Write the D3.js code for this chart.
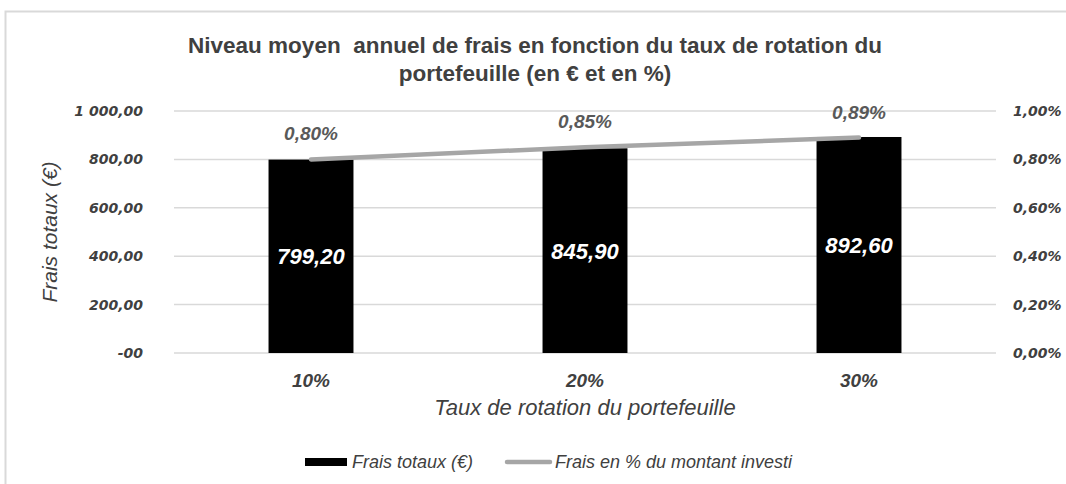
<!DOCTYPE html>
<html>
<head>
<meta charset="utf-8">
<script src="https://cdn.jsdelivr.net/npm/d3@7"></script>
<style>
  body { margin: 0; background: #fff; overflow: hidden; }
  text { font-family: "Liberation Sans", Arial, sans-serif; }
  .tick-lbl { font-family: "DejaVu Sans", Verdana, sans-serif; font-size: 14px; font-weight: bold; font-style: italic; fill: #404040; }
</style>
</head>
<body>
<div id="chart"></div>
<script>
// donnees
const categories = ['10%', '20%', '30%'];
const fraisTotaux = [799.20, 845.90, 892.60];
const fraisPct = [0.80, 0.85, 0.89];
const leftTicks = [0, 200, 400, 600, 800, 1000];
const rightTicks = [0, 0.2, 0.4, 0.6, 0.8, 1.0];

const WIDTH = 1066;
const HEIGHT = 484;
const PLOT = { LEFT: 174, RIGHT: 996, TOP: 111, BOTTOM: 353 };

const svg = d3.select('#chart')
  .append('svg')
    .attr('width', WIDTH)
    .attr('height', HEIGHT)
    .style('display', 'block');

// cadre
svg.append('rect')
  .attr('x', 5.5).attr('y', 11.5)
  .attr('width', 1090).attr('height', 500)
  .attr('fill', 'none')
  .attr('stroke', '#d9d9d9')
  .attr('stroke-width', 2);

const xscale = d3.scaleBand().domain(categories).range([PLOT.LEFT, PLOT.RIGHT]);
const yLeft = d3.scaleLinear().domain([0, 1000]).range([PLOT.BOTTOM, PLOT.TOP]);
const yRight = d3.scaleLinear().domain([0, 1.0]).range([PLOT.BOTTOM, PLOT.TOP]);

const fmtEur = v => {
  if (v === 0) return '-00';
  const s = d3.format(',.2f')(v);
  return s.replace(/,/g, ' ').replace('.', ',');
};
const fmtPct = v => d3.format('.2f')(v).replace('.', ',') + '%';
const fmtNum = v => d3.format('.2f')(v).replace('.', ',');

// titre
const title = svg.append('text')
  .attr('text-anchor', 'middle')
  .style('font-size', '22.5px')
  .style('font-weight', 'bold')
  .style('fill', '#404040');
title.append('tspan').attr('x', 535).attr('y', 53)
  .text('Niveau moyen\u00a0 annuel de frais en fonction du taux de rotation du');
title.append('tspan').attr('x', 535).attr('y', 81)
  .text('portefeuille (en € et en %)');

// grille
svg.append('g').selectAll('line')
  .data(leftTicks)
  .enter().append('line')
    .attr('x1', PLOT.LEFT).attr('x2', PLOT.RIGHT)
    .attr('y1', d => yLeft(d)).attr('y2', d => yLeft(d))
    .attr('stroke', '#d9d9d9')
    .attr('stroke-width', 1.5);

// axes (etiquettes seulement)
svg.append('g').selectAll('text')
  .data(leftTicks)
  .enter().append('text')
    .attr('class', 'tick-lbl')
    .attr('x', 143)
    .attr('y', d => yLeft(d))
    .attr('dy', '0.36em')
    .attr('text-anchor', 'end')
    .text(fmtEur);

svg.append('g').selectAll('text')
  .data(rightTicks)
  .enter().append('text')
    .attr('class', 'tick-lbl')
    .attr('x', 1013)
    .attr('y', d => yRight(d))
    .attr('dy', '0.36em')
    .text(fmtPct);

// barres
const bw = xscale.bandwidth() * 0.31;
svg.append('g').selectAll('rect')
  .data(fraisTotaux)
  .enter().append('rect')
    .attr('x', (d, i) => xscale(categories[i]) + xscale.bandwidth() / 2 - bw / 2)
    .attr('y', d => yLeft(d))
    .attr('width', bw)
    .attr('height', d => yLeft(0) - yLeft(d))
    .attr('fill', '#000');

svg.append('g').selectAll('text')
  .data(fraisTotaux)
  .enter().append('text')
    .attr('x', (d, i) => xscale(categories[i]) + xscale.bandwidth() / 2)
    .attr('y', d => (yLeft(d) + yLeft(0)) / 2 + 8)
    .attr('text-anchor', 'middle')
    .style('font-size', '22px')
    .style('font-weight', 'bold')
    .style('font-style', 'italic')
    .style('fill', '#fff')
    .text(fmtNum);

// ligne %
const line = d3.line()
  .x((d, i) => xscale(categories[i]) + xscale.bandwidth() / 2)
  .y(d => yRight(d));

svg.append('path')
  .datum(fraisPct)
  .attr('d', line)
  .attr('fill', 'none')
  .attr('stroke', '#a6a6a6')
  .attr('stroke-width', 4.5)
  .attr('stroke-linecap', 'round');

svg.append('g').selectAll('text')
  .data(fraisPct)
  .enter().append('text')
    .attr('x', (d, i) => xscale(categories[i]) + xscale.bandwidth() / 2)
    .attr('y', d => yRight(d) - 19)
    .attr('text-anchor', 'middle')
    .style('font-size', '19px')
    .style('font-weight', 'bold')
    .style('font-style', 'italic')
    .style('fill', '#595959')
    .text(fmtPct);

// categories
svg.append('g').selectAll('text')
  .data(categories)
  .enter().append('text')
    .attr('x', d => xscale(d) + xscale.bandwidth() / 2)
    .attr('y', 387)
    .attr('text-anchor', 'middle')
    .style('font-size', '19px')
    .style('font-weight', 'bold')
    .style('font-style', 'italic')
    .style('fill', '#404040')
    .text(d => d);

// titres des axes
svg.append('text')
  .attr('x', (PLOT.LEFT + PLOT.RIGHT) / 2)
  .attr('y', 415)
  .attr('text-anchor', 'middle')
  .style('font-size', '22px')
  .style('font-style', 'italic')
  .style('fill', '#404040')
  .text('Taux de rotation du portefeuille');

svg.append('text')
  .attr('transform', 'translate(57, 232) rotate(-90)')
  .attr('text-anchor', 'middle')
  .style('font-size', '21px')
  .style('font-style', 'italic')
  .style('fill', '#404040')
  .text('Frais totaux (€)');

// legende
const legend = svg.append('g');
legend.append('rect')
  .attr('x', 305).attr('y', 458)
  .attr('width', 42).attr('height', 8)
  .attr('fill', '#000');
legend.append('text')
  .attr('x', 352).attr('y', 468)
  .style('font-size', '18px')
  .style('font-style', 'italic')
  .style('fill', '#404040')
  .text('Frais totaux (€)');
legend.append('line')
  .attr('x1', 507).attr('x2', 550)
  .attr('y1', 462).attr('y2', 462)
  .attr('stroke', '#a6a6a6')
  .attr('stroke-width', 4.5)
  .attr('stroke-linecap', 'round');
legend.append('text')
  .attr('x', 555).attr('y', 468)
  .style('font-size', '18px')
  .style('font-style', 'italic')
  .style('fill', '#404040')
  .text('Frais en % du montant investi');
</script>
</body>
</html>
